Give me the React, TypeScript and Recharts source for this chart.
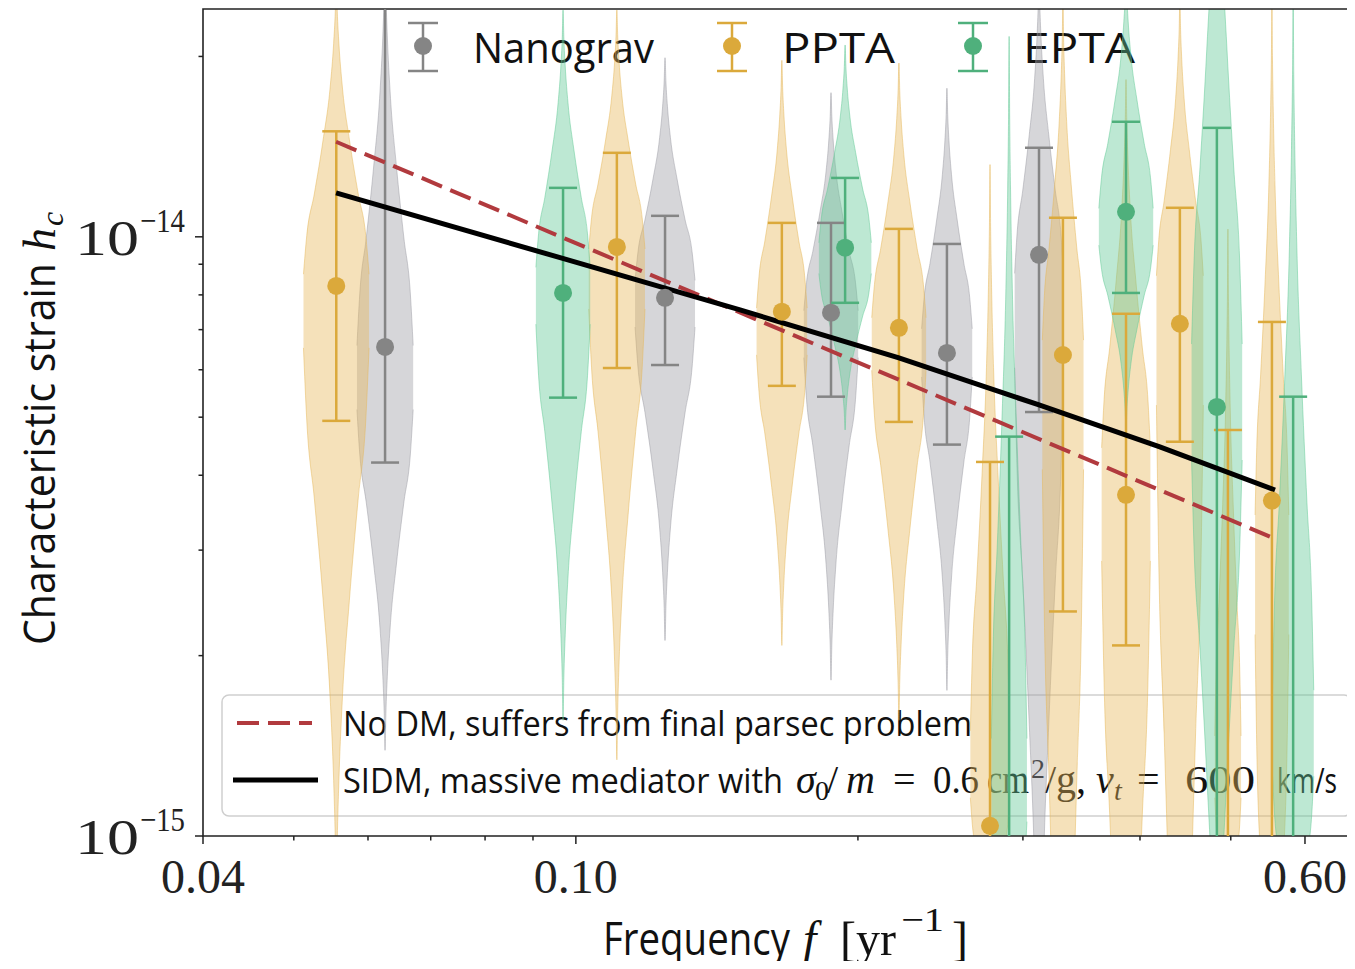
import React from 'react';
import { ComposedChart, Area, Line, Scatter, ErrorBar, XAxis, YAxis, ReferenceArea, Customized } from 'recharts';

const W = 1355;
const H = 969;
const SANS = "'Open Sans', 'DejaVu Sans', sans-serif";
const SERIF = "'Liberation Serif', 'DejaVu Serif', serif";

// frequency f [1/yr], strain h_c in units of 1e-15
const NG_F = [0.06257, 0.1245, 0.1872, 0.2489, 0.3121];
const NG_H = [6.55, 7.91, 7.47, 6.4, 9.33];
const NG_HI = [28, 10.84, 10.55, 9.73, 14.08];
const NG_LO = [4.2, 6.11, 5.41, 4.5, 5.1];
const NG_V_TOP = [30.1, 19.9, 17.4, 17.7, 27.9];
const NG_V_MODE = [5.77, 7.85, 7.0, 6.48, 7.85];
const NG_V_BOT = [1.39, 2.12, 1.82, 1.75, 0.3];
const NG_V_W = [0.03, 0.032, 0.029, 0.027, 0.026];

const PPTA_F = [0.0555, 0.1106, 0.1659, 0.2212, 0.2767, 0.331, 0.3865, 0.4412, 0.4965, 0.5532];
const PPTA_H = [8.28, 9.62, 7.5, 7.05, 1.04, 6.35, 3.71, 7.16, 0.78, 3.63];
const PPTA_HI = [15.0, 13.81, 10.55, 10.31, 4.21, 10.76, 7.44, 11.18, 4.76, 7.21];
const PPTA_LO = [4.93, 6.04, 5.64, 4.91, 0.4, 2.37, 2.08, 4.55, 0.3, 0.4];
const PPTA_V_TOP = [26.9, 23.9, 19.7, 19.5, 13.2, 24.9, 18.3, 24.9, 10.3, 24.9];
const PPTA_V_MODE = [7.85, 8.81, 7.0, 6.73, 1.24, 6.0, 3.93, 7.85, 1.24, 2.89];
const PPTA_V_BOT = [0.78, 1.34, 2.08, 1.56, 0.53, 0.05, 0.08, 0.05, 0.53, 0.08];
const PPTA_V_W = [0.035, 0.03, 0.027, 0.029, 0.021, 0.022, 0.026, 0.025, 0.014, 0.018];

const EPTA_F = [0.0969, 0.1938, 0.29, 0.3865, 0.4832, 0.5828];
const EPTA_H = [8.06, 9.59, 0.65, 11.01, 5.2, 0.6];
const EPTA_HI = [12.07, 12.54, 4.64, 15.56, 15.2, 5.41];
const EPTA_LO = [5.39, 7.76, 0.3, 8.06, 0.4, 0.3];
const EPTA_V_TOP = [23.9, 20.9, 21.6, 27.9, 78.8, 24.9];
const EPTA_V_MODE = [8.16, 9.15, 1.15, 10.3, 5.34, 1.39];
const EPTA_V_BOT = [1.56, 4.76, 0.4, 4.76, 0.3, 0.4];
const EPTA_V_W = [0.029, 0.028, 0.019, 0.029, 0.027, 0.022];

// model curves
const NODM_F = [0.05547, 0.5504];
const NODM_H = [14.41, 3.16];
const SIDM_F = [0.05547, 0.0962, 0.1497, 0.2212, 0.3121, 0.42, 0.5574];
const SIDM_H = [11.84, 9.23, 7.55, 6.28, 5.24, 4.46, 3.78];

const X_MAJOR = [0.04, 0.1, 0.6];
const X_LABELS = ['0.04', '0.10', '0.60'];
const X_MINOR = [0.05, 0.06, 0.07, 0.08, 0.09, 0.2, 0.3, 0.4, 0.5];
const Y_MAJOR = [1, 10];
const Y_LABELS = ['\u221215', '\u221214'];
const Y_MINOR = [2, 3, 4, 5, 6, 7, 8, 9, 20];

// violin outline: width fraction vs. fraction of the way from the widest point to the tip
const VIOLIN_K = [1, 0.9, 0.67, 0.4, 0.18, 0.08, 0.03, 0];
const VIOLIN_T = [0.08, 0.2, 0.33, 0.5, 0.67, 0.8, 0.9, 1];

const violinData = (f: number, top: number, mode: number, bot: number, w: number) => {
  const lm = Math.log10(mode);
  const lt = Math.log10(top);
  const lb = Math.log10(bot);
  const pt = (k: number, t: number, s: number) => ({
    x: f * Math.pow(10, s * w * k),
    range: [Math.pow(10, lm - t * (lm - lb)), Math.pow(10, lm + t * (lt - lm))],
  });
  const left = VIOLIN_K.map((k, i) => pt(k, VIOLIN_T[i], -1));
  const right = VIOLIN_K.slice(0, -1).map((k, i) => pt(k, VIOLIN_T[i], 1)).reverse();
  return [...left, ...right];
};

const makeSeries = (f: number[], h: number[], hi: number[], lo: number[]) =>
  f.map((x, i) => ({ x, y: h[i], err: [h[i] - lo[i], hi[i] - h[i]] }));

const makeViolins = (f: number[], top: number[], mode: number[], bot: number[], w: number[]) =>
  f.map((x, i) => violinData(x, top[i], mode[i], bot[i], w[i]));

const SERIES = [
  {
    name: 'Nanograv', color: '#858585', fill: '#9d9da5',
    points: makeSeries(NG_F, NG_H, NG_HI, NG_LO),
    violins: makeViolins(NG_F, NG_V_TOP, NG_V_MODE, NG_V_BOT, NG_V_W),
  },
  {
    name: 'PPTA', color: '#dba93b', fill: '#e6b85a',
    points: makeSeries(PPTA_F, PPTA_H, PPTA_HI, PPTA_LO),
    violins: makeViolins(PPTA_F, PPTA_V_TOP, PPTA_V_MODE, PPTA_V_BOT, PPTA_V_W),
  },
  {
    name: 'EPTA', color: '#4fb07c', fill: '#62c995',
    points: makeSeries(EPTA_F, EPTA_H, EPTA_HI, EPTA_LO),
    violins: makeViolins(EPTA_F, EPTA_V_TOP, EPTA_V_MODE, EPTA_V_BOT, EPTA_V_W),
  },
];

const nodm = NODM_F.map((x, i) => ({ x, y: NODM_H[i] }));
const sidm = SIDM_F.map((x, i) => ({ x, y: SIDM_H[i] }));

const XTick = (props: any) => {
  const { x, y, payload } = props;
  const idx = X_MAJOR.indexOf(payload.value);
  const major = idx >= 0;
  return (
    <g>
      <line x1={x} y1={y} x2={x} y2={y + (major ? 8 : 4.5)} stroke="#222" strokeWidth={1.5} />
      {major && (
        <text x={x} y={y + 57} textAnchor="middle" fontFamily={SERIF} fontSize={48} fill="#222">
          {X_LABELS[idx]}
        </text>
      )}
    </g>
  );
};

const YTick = (props: any) => {
  const { x, y, payload } = props;
  const idx = Y_MAJOR.indexOf(payload.value);
  const major = idx >= 0;
  return (
    <g>
      <line x1={x} y1={y} x2={x - (major ? 8 : 4.5)} y2={y} stroke="#222" strokeWidth={1.5} />
      {major && (
        <g fontFamily={SERIF} fill="#222">
          <text x={x - 128} y={y + 18} fontSize={50} textLength={64} lengthAdjust="spacingAndGlyphs">10</text>
          <text x={x - 63} y={y - 5} fontSize={34} textLength={45} lengthAdjust="spacingAndGlyphs">{Y_LABELS[idx]}</text>
        </g>
      )}
    </g>
  );
};

const ErrIcon = ({ x, color }: { x: number; color: string }) => (
  <g stroke={color} strokeWidth={2.5}>
    <line x1={x} y1={23} x2={x} y2={71} />
    <line x1={x - 15} y1={23} x2={x + 15} y2={23} />
    <line x1={x - 15} y1={71} x2={x + 15} y2={71} />
    <circle cx={x} cy={46} r={9} fill={color} stroke="none" />
  </g>
);

// one piece of the math legend text
const M = ({ x, w, dy = 0, small = false, it = false, children }: any) => (
  <text
    x={x}
    y={793 + dy}
    fontFamily={SERIF}
    fontSize={small ? 28 : 40}
    fontStyle={it ? 'italic' : 'normal'}
    textLength={w}
    lengthAdjust={w ? 'spacingAndGlyphs' : undefined}
  >
    {children}
  </text>
);

const Overlay = () => (
  <g>
    <defs>
      <clipPath id="plot-clip">
        <rect x={203} y={9} width={1149} height={827} />
      </clipPath>
    </defs>
    <style>{`[class*="recharts-errorBar"] { clip-path: url(#plot-clip); }`}</style>

    {/* top legend */}
    <ErrIcon x={423} color={SERIES[0].color} />
    <text x={473} y={63} fontFamily={SANS} fontSize={42} fill="#111" textLength={181} lengthAdjust="spacingAndGlyphs">Nanograv</text>
    <ErrIcon x={732} color={SERIES[1].color} />
    <text x={782} y={63} fontFamily={SANS} fontSize={42} fill="#111" textLength={113} lengthAdjust="spacingAndGlyphs">PPTA</text>
    <ErrIcon x={973} color={SERIES[2].color} />
    <text x={1023} y={63} fontFamily={SANS} fontSize={42} fill="#111" textLength={112} lengthAdjust="spacingAndGlyphs">EPTA</text>

    {/* lower legend */}
    <rect x={222} y={695} width={1129} height={121} rx={7} fill="#fff" fillOpacity={0.8} stroke="#cfcfcf" strokeWidth={1.5} />
    <line x1={237} y1={723} x2={312} y2={723} stroke="#b13a3e" strokeWidth={4} strokeDasharray="22 9" />
    <text x={343} y={736} fontFamily={SANS} fontSize={34} fill="#111" textLength={629} lengthAdjust="spacingAndGlyphs">
      No DM, suffers from final parsec problem
    </text>
    <line x1={233} y1={780} x2={318} y2={780} stroke="#000" strokeWidth={5} />
    <g fill="#111">
      <text x={343} y={793} fontFamily={SANS} fontSize={34} textLength={440} lengthAdjust="spacingAndGlyphs">SIDM, massive mediator with</text>
      <M x={796} it>σ</M>
      <M x={815} dy={7} small>0</M>
      <M x={827}>/</M>
      <M x={846} it>m</M>
      <M x={893}>=</M>
      <M x={933} w={46}>0.6</M>
      <M x={987} w={42}>cm</M>
      <M x={1031} dy={-15} small>2</M>
      <M x={1045}>/g,</M>
      <M x={1096} it>v</M>
      <M x={1114} dy={7} small it>t</M>
      <M x={1137}>=</M>
      <M x={1185} w={70}>600</M>
      <text x={1277} y={793} fontFamily={SANS} fontSize={34} textLength={60} lengthAdjust="spacingAndGlyphs">km/s</text>
    </g>

    {/* axis labels */}
    <g fill="#111">
      <text x={603} y={955} fontFamily={SANS} fontSize={46} textLength={187} lengthAdjust="spacingAndGlyphs">Frequency</text>
      <text x={803} y={955} fontFamily={SERIF} fontSize={48} fontStyle="italic">f</text>
      <text x={840} y={955} fontFamily={SERIF} fontSize={48} textLength={56} lengthAdjust="spacingAndGlyphs">[yr</text>
      <text x={901} y={931} fontFamily={SERIF} fontSize={34} textLength={43} lengthAdjust="spacingAndGlyphs">−1</text>
      <text x={952} y={955} fontFamily={SERIF} fontSize={48}>]</text>
    </g>
    <g transform="translate(55, 645) rotate(-90)" fill="#111">
      <text x={0} y={0} fontFamily={SANS} fontSize={44} textLength={382} lengthAdjust="spacingAndGlyphs">Characteristic strain</text>
      <text x={394} y={0} fontFamily={SERIF} fontSize={46} fontStyle="italic">h</text>
      <text x={419} y={8} fontFamily={SERIF} fontSize={32} fontStyle="italic">c</text>
    </g>
  </g>
);

export default function App() {
  return (
    <div style={{ margin: '-8px 0 -8px -8px', width: W, height: H, background: '#fff' }}>
      <ComposedChart width={W} height={H} margin={{ top: 9, right: 3, left: 0, bottom: 0 }}>
        <XAxis
          dataKey="x"
          type="number"
          scale="log"
          domain={[0.04, 0.6735]}
          allowDataOverflow
          ticks={[...X_MAJOR, ...X_MINOR]}
          interval={0}
          tick={<XTick />}
          tickLine={false}
          axisLine={false}
          tickSize={0}
          tickMargin={0}
          height={133}
        />
        <YAxis
          dataKey="y"
          type="number"
          scale="log"
          domain={[1, 24]}
          allowDataOverflow
          ticks={[...Y_MAJOR, ...Y_MINOR]}
          interval={0}
          tick={<YTick />}
          tickLine={false}
          axisLine={false}
          tickSize={0}
          tickMargin={0}
          width={203}
        />
        {SERIES.map((s) =>
          s.violins.map((v, i) => (
            <Area
              key={`${s.name}-v${i}`}
              data={v}
              dataKey="range"
              type="monotone"
              fill={s.fill}
              fillOpacity={0.42}
              stroke={s.fill}
              strokeOpacity={0.5}
              strokeWidth={1}
              dot={false}
              activeDot={false}
              isAnimationActive={false}
              legendType="none"
            />
          ))
        )}
        {SERIES.map((s) => (
          <Scatter
            key={s.name}
            name={s.name}
            data={s.points}
            fill={s.color}
            isAnimationActive={false}
            shape={(p: any) => <circle cx={p.cx} cy={p.cy} r={9} fill={s.color} />}
          >
            <ErrorBar dataKey="err" direction="y" width={14} stroke={s.color} strokeWidth={2.5} isAnimationActive={false} />
          </Scatter>
        ))}
        <Line data={nodm} dataKey="y" type="linear" stroke="#b13a3e" strokeWidth={4} strokeDasharray="22 9" dot={false} activeDot={false} isAnimationActive={false} />
        <Line data={sidm} dataKey="y" type="linear" stroke="#000" strokeWidth={5} dot={false} activeDot={false} isAnimationActive={false} />
        <ReferenceArea x1={0.04} x2={0.6735} y1={1} y2={24} fill="none" fillOpacity={0} stroke="#222" strokeWidth={1.6} ifOverflow="visible" />
        <Customized component={Overlay} />
      </ComposedChart>
    </div>
  );
}
